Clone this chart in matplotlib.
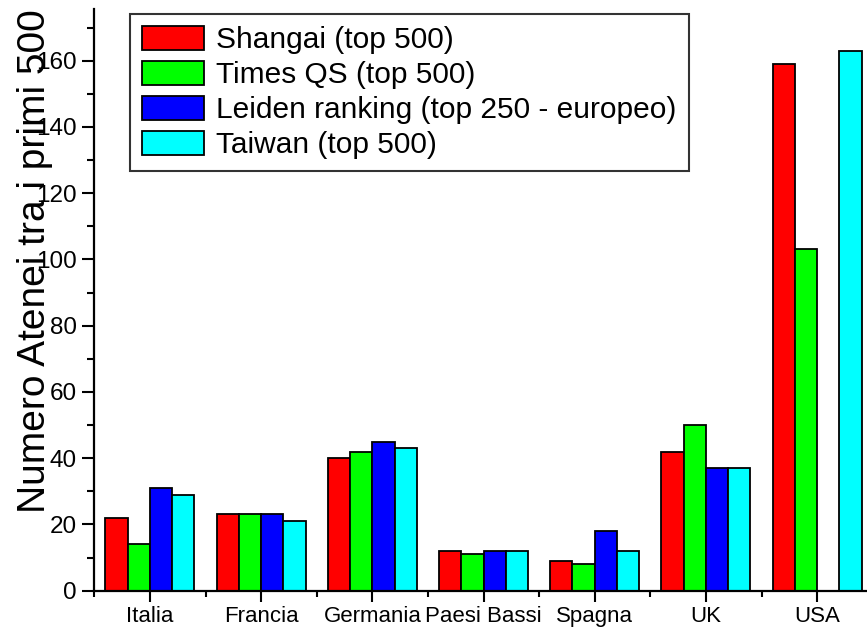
import numpy as np
import matplotlib
matplotlib.use("Agg")
import matplotlib.pyplot as plt
from matplotlib.ticker import MultipleLocator, FixedLocator

categories = ["Italia", "Francia", "Germania", "Paesi Bassi", "Spagna", "UK", "USA"]
shangai = [22, 23, 40, 12, 9, 42, 159]
times_qs = [14, 23, 42, 11, 8, 50, 103]
leiden = [31, 23, 45, 12, 18, 37, 0]
taiwan = [29, 21, 43, 12, 12, 37, 163]

series_labels = ["Shangai (top 500)", "Times QS (top 500)",
                 "Leiden ranking (top 250 - europeo)", "Taiwan (top 500)"]
series_values = [shangai, times_qs, leiden, taiwan]
series_colors = ["#FF0000", "#00FF00", "#0000FF", "#00FFFF"]
ylabel = "Numero Atenei tra i primi 500"

REG = ["Liberation Sans", "DejaVu Sans"]

fig = plt.figure(figsize=(8.67, 6.3), dpi=100)
ax = fig.add_axes([0.1088, 0.0624, 0.8978, 0.9228])

x = np.arange(len(categories))
w = 0.2
for i, (vals, lab, col) in enumerate(zip(series_values, series_labels, series_colors)):
    offs = (i - 1.5) * w
    ax.bar(x + offs, vals, width=w, color=col, edgecolor="black",
           linewidth=1.3, label=lab, zorder=2)

ax.set_xlim(-0.5, 6.5)
ax.set_ylim(0, 175.5)

for s in ["top", "right"]:
    ax.spines[s].set_visible(False)
for s in ["left", "bottom"]:
    ax.spines[s].set_linewidth(1.6)
    ax.spines[s].set_zorder(3)

ax.set_xticks(x)
ax.set_xticklabels(categories, fontfamily=REG, fontsize=16)
ax.xaxis.set_minor_locator(FixedLocator(np.arange(-0.5, 7.0, 1.0)))
ax.yaxis.set_minor_locator(MultipleLocator(10))
ax.set_yticks(np.arange(0, 161, 20))
ax.set_yticklabels([str(v) for v in range(0, 161, 20)], fontfamily=REG, fontsize=17.5)

ax.tick_params(axis="y", which="major", direction="out", length=9, width=1.5, pad=3.4)
ax.tick_params(axis="y", which="minor", direction="out", length=5, width=1.5)
ax.tick_params(axis="x", which="major", direction="out", length=8, width=1.5, pad=3)
ax.tick_params(axis="x", which="minor", direction="out", length=4.5, width=1.5)

fig.text(53 / 867, 1 - 261.5 / 630, ylabel, rotation=90, ha="right", va="center",
         fontsize=28, fontfamily=REG)

leg = ax.legend(loc="upper left", bbox_to_anchor=(130 / 867, 1 - 14 / 630),
                bbox_transform=fig.transFigure, borderaxespad=0,
                prop={"family": REG, "size": 21.5},
                handlelength=2.07, handleheight=0.87, handletextpad=0.42,
                labelspacing=0.22, borderpad=0.4, fancybox=False,
                framealpha=1, edgecolor="#333333")
leg.get_frame().set_linewidth(1.5)

fig.savefig("out.png", dpi=100)
